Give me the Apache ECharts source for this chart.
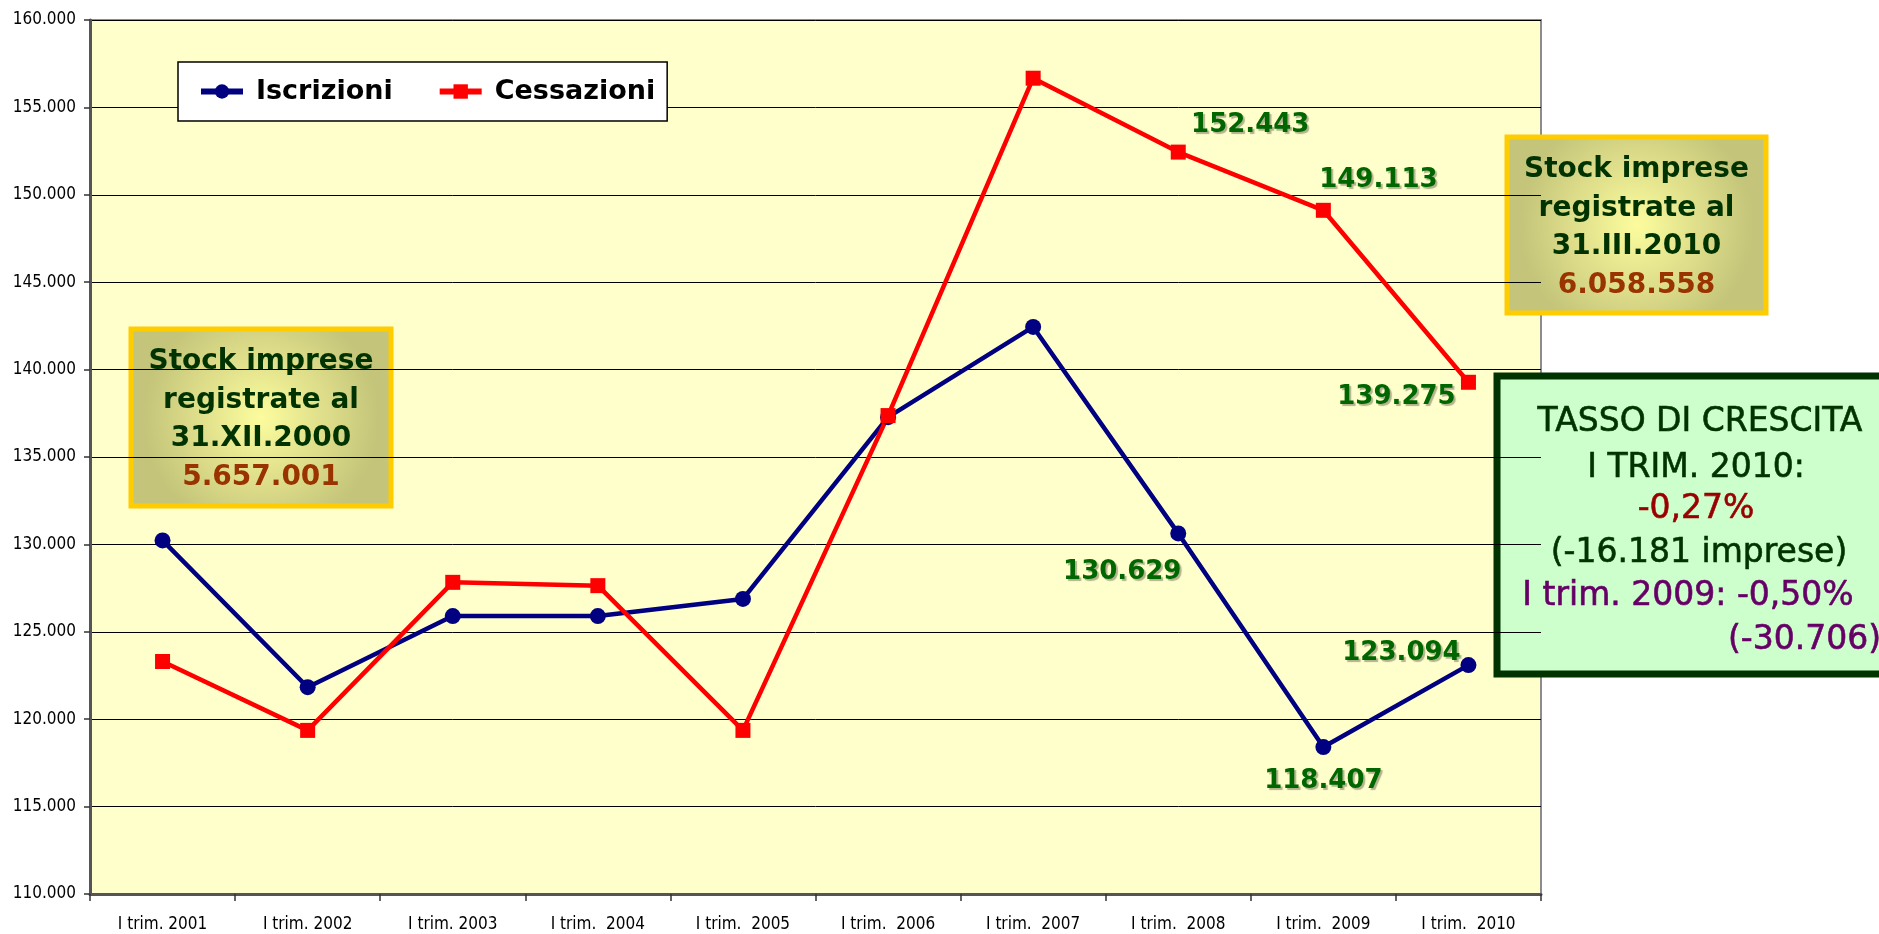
<!DOCTYPE html>
<html>
<head>
<meta charset="utf-8">
<script src="https://cdn.jsdelivr.net/npm/echarts@6/dist/echarts.min.js"></script>
<style>
  html, body { margin: 0; padding: 0; background: #fff; }
  #chart { width: 1879px; height: 934px; }
</style>
</head>
<body>
<div id="chart"></div>
<script>
// dati
const categories = ['I trim. 2001', 'I trim. 2002', 'I trim. 2003', 'I trim.  2004', 'I trim.  2005',
  'I trim.  2006', 'I trim.  2007', 'I trim.  2008', 'I trim.  2009', 'I trim.  2010'];
const iscrizioni = [130226, 121830, 125900, 125900, 126880, 137280, 142440, 130629, 118407, 123094];
const cessazioni = [123300, 119360, 127830, 127640, 119360, 137370, 156670, 152443, 149113, 139275];
// quali punti hanno l'etichetta e dove
const iscrizioniLabels = { 7: [-56, 39], 8: [0, 34], 9: [-67, -12] };
const cessazioniLabels = { 7: [72, -27], 8: [55, -30], 9: [-72, 15] };
const boxLeft = ['Stock imprese', 'registrate al', '31.XII.2000', '5.657.001'];
const boxRight = ['Stock imprese', 'registrate al', '31.III.2010', '6.058.558'];
const boxTasso = [
  { text: 'TASSO DI CRESCITA', color: '#003300' },
  { text: 'I TRIM. 2010:', color: '#003300' },
  { text: '-0,27%', color: '#990000' },
  { text: '(-16.181 imprese)', color: '#003300' },
  { text: 'I trim. 2009: -0,50%', color: '#660066' },
  { text: '(-30.706)', color: '#660066' }
];

const fmt = v => Math.round(v).toString().replace(/\B(?=(\d{3})+(?!\d))/g, '.');
const narrow = '"DejaVu Sans Condensed", "Liberation Sans Narrow", "DejaVu Sans", sans-serif';
const wide = '"DejaVu Sans", Verdana, sans-serif';

function buildData (values, labels) {
  return values.map((v, i) => {
    if (!labels[i]) return v;
    return { value: v, label: { show: true, offset: labels[i] } };
  });
}

// box giallo con gradiente
function stockBox (x, y, w, h, lines) {
  const children = [{
    type: 'rect',
    shape: { x: 0, y: 0, width: w, height: h },
    style: {
      fill: new echarts.graphic.RadialGradient(0.5, 0.5, 0.65, [
        { offset: 0, color: '#FCFC9E' },
        { offset: 1, color: '#C4C47A' }
      ]),
      stroke: '#FFCC00',
      lineWidth: 5
    }
  }];
  const ys = [33, 72, 110, 149];
  lines.forEach((t, i) => {
    children.push({
      type: 'text',
      x: w / 2,
      y: ys[i],
      style: {
        text: t,
        fill: i === 3 ? '#993300' : '#003300',
        font: 'bold 28px ' + wide,
        textAlign: 'center',
        textVerticalAlign: 'middle',
        shadowColor: 'rgba(0,0,0,0.25)',
        shadowOffsetX: 1,
        shadowOffsetY: 1
      }
    });
  });
  return { type: 'group', x: x, y: y, children: children };
}

function tassoBox () {
  const children = [{
    type: 'rect',
    shape: { x: 0, y: 0, width: 400, height: 298 },
    style: { fill: '#CCFFCC', stroke: '#003300', lineWidth: 7 }
  }];
  const pos = [[203, 46], [199, 92], [199, 133], [202, 177], [191, 220], [null, 264]];
  boxTasso.forEach((l, i) => {
    const last = pos[i][0] === null;
    children.push({
      type: 'text',
      x: last ? 384 : pos[i][0],
      y: pos[i][1],
      style: {
        text: l.text,
        fill: l.color,
        font: '33px ' + wide,
        textAlign: last ? 'right' : 'center',
        textVerticalAlign: 'middle',
        stroke: l.color,
        lineWidth: 0.6,
        shadowColor: 'rgba(0,0,0,0.35)',
        shadowOffsetX: 2,
        shadowOffsetY: 2
      }
    });
  });
  return { type: 'group', x: 1497, y: 376, children: children };
}

const chart = echarts.init(document.getElementById('chart'));
const labelStyle = {
  show: false,
  position: 'inside',
  color: '#006600',
  fontFamily: wide,
  fontWeight: 'bold',
  fontSize: 26,
  textShadowColor: 'rgba(0,0,0,0.3)',
  textShadowOffsetX: 2,
  textShadowOffsetY: 2,
  textShadowBlur: 1,
  formatter: p => fmt(p.value)
};

chart.setOption({
  backgroundColor: '#ffffff',
  animation: false,
  grid: {
    left: 90,
    right: 338,
    top: 20,
    bottom: 40,
    show: true,
    backgroundColor: '#FFFFCC',
    borderColor: '#8C8C8C',
    borderWidth: 2
  },
  legend: {
    left: 178,
    top: 62,
    padding: [16, 12, 16, 20],
    itemWidth: 42,
    itemHeight: 18,
    itemGap: 44,
    backgroundColor: '#ffffff',
    borderColor: '#000000',
    borderWidth: 1.5,
    lineStyle: { width: 6 },
    textStyle: { fontFamily: wide, fontWeight: 'bold', fontSize: 27, color: '#000', padding: [0, 0, 0, 8] },
    data: ['Iscrizioni', 'Cessazioni']
  },
  xAxis: {
    type: 'category',
    data: categories,
    boundaryGap: true,
    axisLine: { lineStyle: { color: '#555555', width: 3 } },
    axisTick: { show: true, length: 7, lineStyle: { color: '#333', width: 1.5 } },
    axisLabel: { color: '#000', fontFamily: narrow, fontSize: 17, margin: 22 }
  },
  yAxis: {
    type: 'value',
    min: 110000,
    max: 160000,
    interval: 5000,
    axisLine: { show: true, lineStyle: { color: '#555555', width: 3 } },
    axisTick: { show: true, length: 6, lineStyle: { color: '#333', width: 1.5 } },
    splitLine: { lineStyle: { color: '#000000', width: 1 } },
    axisLabel: { color: '#000', fontFamily: narrow, fontSize: 17, margin: 14, formatter: v => fmt(v) }
  },
  series: [
    {
      name: 'Iscrizioni',
      type: 'line',
      data: buildData(iscrizioni, iscrizioniLabels),
      symbol: 'circle',
      symbolSize: 16,
      lineStyle: { color: '#000080', width: 4.5 },
      itemStyle: { color: '#000080' },
      label: labelStyle
    },
    {
      name: 'Cessazioni',
      type: 'line',
      data: buildData(cessazioni, cessazioniLabels),
      symbol: 'rect',
      symbolSize: 15,
      lineStyle: { color: '#FF0000', width: 4.5 },
      itemStyle: { color: '#FF0000' },
      label: labelStyle
    }
  ],
  graphic: [
    stockBox(131, 329, 260, 177, boxLeft),
    stockBox(1507, 137, 259, 176, boxRight),
    tassoBox()
  ]
});
</script>
</body>
</html>
